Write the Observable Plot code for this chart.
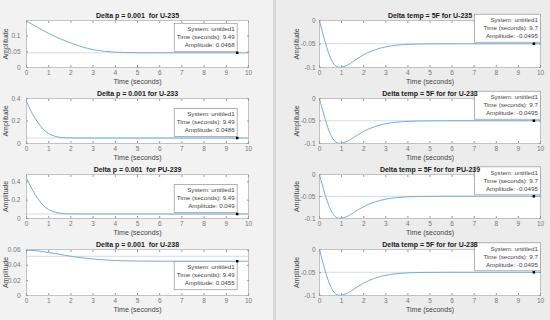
<!DOCTYPE html>
<html><head><meta charset="utf-8">
<script src="https://cdn.jsdelivr.net/npm/d3@7"></script>
<script src="https://cdn.jsdelivr.net/npm/@observablehq/plot@0.6"></script>
<style>
body{margin:0;background:#f0f0f0;}
#wrap{position:relative;width:550px;height:320px;overflow:hidden;font-family:"Liberation Sans",Arial,sans-serif;}
.win{position:absolute;top:0;height:320px;}
.panel{position:absolute;}
</style></head><body>
<div id="wrap">
<div class="win" style="left:0;width:273px;background:#f2f2f2"></div>
<div class="win" style="left:273px;width:3px;background:#d6d6d6"></div>
<div class="win" style="left:276px;width:274px;background:#ececec"></div>
</div>
<script>
// ---- data ----
const xTicks = [0, 1, 2, 3, 4, 5, 6, 7, 8, 9, 10];
const tP = [0, 0.25, 0.5, 0.75, 1, 1.25, 1.5, 1.75, 2, 2.5, 3, 3.5, 4, 4.5, 5, 6, 7, 8, 9, 10];
const u235 = [0.148, 0.138, 0.128, 0.118, 0.109, 0.100, 0.092, 0.085, 0.078, 0.066, 0.057, 0.052, 0.049, 0.0478, 0.0472, 0.0469, 0.0468, 0.0468, 0.0468, 0.0468];
const u233 = [0.375, 0.27, 0.19, 0.128, 0.088, 0.066, 0.055, 0.051, 0.0495, 0.0488, 0.0486, 0.0486, 0.0486, 0.0486, 0.0486, 0.0486, 0.0486, 0.0486, 0.0486, 0.0486];
const pu239 = [0.44, 0.32, 0.22, 0.145, 0.097, 0.071, 0.058, 0.052, 0.050, 0.0493, 0.049, 0.049, 0.049, 0.049, 0.049, 0.049, 0.049, 0.049, 0.049, 0.049];
const u238 = [0.060, 0.0598, 0.0592, 0.0582, 0.0570, 0.0558, 0.0545, 0.0532, 0.0520, 0.0500, 0.0484, 0.0472, 0.0464, 0.0459, 0.0457, 0.0455, 0.0455, 0.0455, 0.0455, 0.0455];
const tT = [0, 0.25, 0.5, 0.7, 0.9, 1.1, 1.3, 1.5, 1.75, 2, 2.5, 3, 3.5, 4, 4.5, 5, 6, 7, 8, 9, 10];
const tempStep = [0, -0.045, -0.080, -0.095, -0.0995, -0.098, -0.094, -0.088, -0.080, -0.073, -0.0625, -0.056, -0.0525, -0.0508, -0.0500, -0.0497, -0.0495, -0.0495, -0.0495, -0.0495, -0.0495];

const leftTitles = ["Delta p = 0.001  for U-235", "Delta p = 0.001 for U-233", "Delta p = 0.001  for PU-239", "Delta p = 0.001  for U-238"];
const rightTitles = ["Delta temp = 5F for U-235", "Delta temp = 5F for for U-233", "Delta temp = 5F for for PU-239", "Delta temp = 5F for for U-238"];
const leftSeries = [u235, u233, pu239, u238];
const leftDomains = [[0, 0.15], [0, 0.4], [0, 0.48], [0, 0.061]];
const leftYTicks = [[0, 0.05, 0.1], [0, 0.2, 0.4], [0, 0.2, 0.4], [0, 0.02, 0.04, 0.06]];
const leftFinal = [0.0468, 0.0486, 0.049, 0.052];
const leftTipT = 9.49;
const leftTipA = [0.0468, 0.0486, 0.049, 0.0455];
const leftTipA_text = ["0.0468", "0.0486", "0.049", "0.0455"];
const rightDomain = [-0.1, 0];
const rightYTicks = [-0.1, -0.05, 0];
const rightFinal = -0.0495;
const rightTipT = 9.7;
const rightTipA = -0.0495;
const systemName = "untitled1";

// ---- layout ----
const rowTop = [20, 98, 174, 249];
const rowBottom = [67, 143, 218, 295];
const leftTipSide = ["above", "above", "above", "below"];
const MT = 14, MB = 22;

function tipBox(tx, ta, lines, side, col) {
  return (index, scales) => {
    const px = scales.x(tx), py = scales.y(ta);
    const w = col === 0 ? 63 : 66, h = 28;
    const right = col === 0 ? px + 0.5 : px + 7;
    const top = side === "above" ? py - h - 1 : py + 1;
    const g = d3.create("svg:g");
    g.append("rect").attr("x", right - w).attr("y", top).attr("width", w).attr("height", h)
      .attr("fill", "white").attr("stroke", "#a0a0a0").attr("stroke-width", 0.8);
    lines.forEach((s, i) => g.append("text").attr("x", right - 2.5).attr("y", top + 7.8 + i * 8)
      .attr("text-anchor", "end").attr("font-size", 6.2).attr("fill", "#444").text(s));
    return g.node();
  };
}

function panel(col, row) {
  const isL = col === 0;
  const xs = isL ? tP : tT;
  const ys = isL ? leftSeries[row] : tempStep;
  const data = xs.map((t, i) => ({t, a: ys[i]}));
  const ml = isL ? 26 : 44, mr = isL ? 12 : 8;
  const pw = isL ? 222 : 221;
  const ph = rowBottom[row] - rowTop[row];
  const tipT = isL ? leftTipT : rightTipT;
  const tipA = isL ? leftTipA[row] : rightTipA;
  const lines = ["System: " + systemName, "Time (seconds): " + tipT, "Amplitude: " + (isL ? leftTipA_text[row] : String(rightTipA))];
  const side = isL ? leftTipSide[row] : "above";
  const yt = isL ? leftYTicks[row] : rightYTicks;
  const svg = Plot.plot({
    width: ml + pw + mr, height: MT + ph + MB,
    marginLeft: ml, marginRight: mr, marginTop: MT, marginBottom: MB,
    style: {background: "transparent", fontFamily: "'Liberation Sans', Arial, sans-serif", fontSize: "6.5px", color: "#666", overflow: "visible"},
    x: {domain: [0, 10]},
    y: {domain: isL ? leftDomains[row] : rightDomain},
    marks: [
      Plot.frame({fill: "white", stroke: "none"}),
      Plot.ruleY([isL ? leftFinal[row] : rightFinal], {stroke: "#c9d3da", strokeWidth: 0.8}),
      Plot.line(data, {x: "t", y: "a", stroke: "#78acd0", strokeWidth: 1, curve: "monotone-x"}),
      Plot.frame({stroke: "#b5b5b5", strokeWidth: 0.8}),
      Plot.axisX({ticks: xTicks, tickSize: -2, tickPadding: 5, stroke: "#999", tickFormat: d => String(d), fill: "#777", label: null}),
      Plot.axisX({ticks: [], label: "Time (seconds)", labelAnchor: "center", labelArrow: "none", labelOffset: 16, fill: "#444", fontSize: 7}),
      Plot.axisX({anchor: "top", ticks: xTicks, tickSize: -2, stroke: "#999", tickFormat: () => "", label: null}),
      Plot.axisY({ticks: yt, tickSize: -2, tickPadding: isL ? 8 : 6, stroke: "#999", tickFormat: d => String(d), fill: "#777", label: null}),
      Plot.axisY({ticks: [], label: "Amplitude", labelAnchor: "center", labelArrow: "none", labelOffset: isL ? 23 : 25, fill: "#444", fontSize: 7}),
      Plot.axisY({anchor: "right", ticks: yt, tickSize: -2, stroke: "#999", tickFormat: () => "", label: null}),
      tipBox(tipT, tipA, lines, side, col),
      Plot.dot([{t: tipT, a: tipA}], {x: "t", y: "a", symbol: "square", r: 1.4, fill: "black", stroke: "none"}),
      Plot.text([isL ? leftTitles[row] : rightTitles[row]], {frameAnchor: "top", dy: -5, lineAnchor: "middle", fontWeight: "bold", fontSize: 7, fill: "#1a1a1a"})
    ]
  });
  svg.classList.add("panel");
  svg.style.left = (isL ? 0 : 275) + "px";
  svg.style.top = (rowTop[row] - MT) + "px";
  svg.style.position = "absolute";
  document.getElementById("wrap").appendChild(svg);
}

for (let r = 0; r < 4; r++) { panel(0, r); panel(1, r); }
</script>
</body></html>
